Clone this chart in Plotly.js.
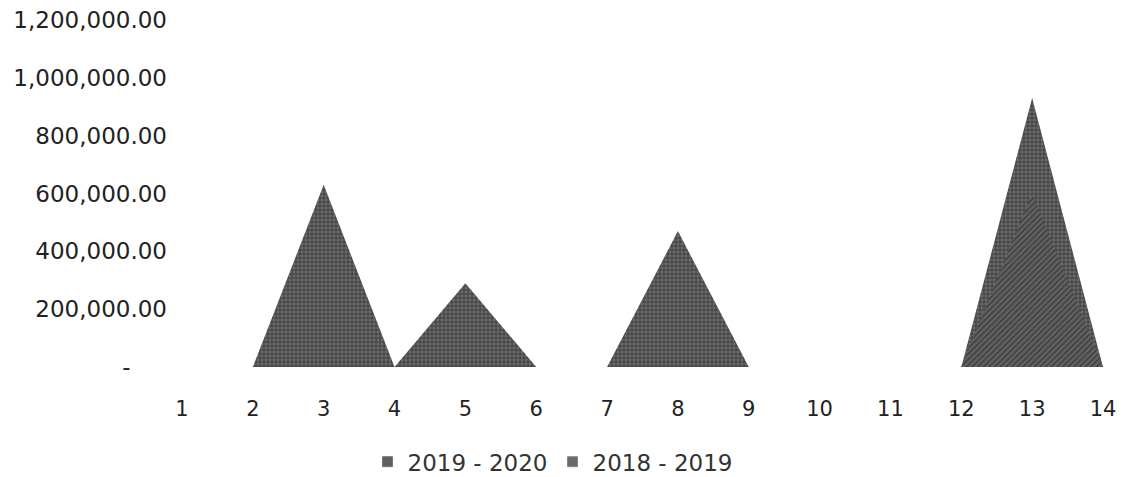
<!DOCTYPE html>
<html>
<head>
<meta charset="utf-8">
<script src="https://cdn.plot.ly/plotly-3.0.1.min.js"></script>
<style>html,body{margin:0;padding:0;background:#fff;}#chart{width:1123px;height:477px;}</style>
</head>
<body>
<div id="chart"></div>
<script>
const categories = [1,2,3,4,5,6,7,8,9,10,11,12,13,14];
const series2019_2020 = [0,0,630000,0,290000,0,0,470000,0,0,0,0,930000,0];
const series2018_2019 = [0,0,0,0,0,0,0,0,0,0,0,0,600000,0];
const yTickVals = [0,200000,400000,600000,800000,1000000,1200000];
const yTickText = ["-\u00a0\u00a0\u00a0\u00a0\u00a0","200,000.00","400,000.00","600,000.00","800,000.00","1,000,000.00","1,200,000.00"];
const seriesNames = ["2019 - 2020","2018 - 2019"];

const pat1 = {shape: '+', fgcolor: '#333333', bgcolor: '#6a6a6a', size: 4, solidity: 0.35};
const pat2 = {shape: '/', fgcolor: '#3a3a3a', bgcolor: '#626262', size: 4, solidity: 0.35};

const traces = [
  {
    x: categories, y: series2019_2020, name: seriesNames[0], showlegend: false,
    type: 'scatter', mode: 'lines', fill: 'tozeroy',
    line: {width: 0, color: '#3a3a3a'},
    fillcolor: '#5a5a5a', fillpattern: pat1
  },
  {
    x: categories, y: series2018_2019, name: seriesNames[1], showlegend: false,
    type: 'scatter', mode: 'lines', fill: 'tozeroy',
    line: {width: 0, color: '#3a3a3a'},
    fillcolor: '#555555', fillpattern: pat2
  },
  {
    x: [null], y: [null], name: seriesNames[0], type: 'scatter', mode: 'markers',
    marker: {symbol: 'square', size: 10, color: '#5f5f5f', line: {width: 1, color: '#777'}}
  },
  {
    x: [null], y: [null], name: seriesNames[1], type: 'scatter', mode: 'markers',
    marker: {symbol: 'square', size: 10, color: '#6a6a6a', line: {width: 1, color: '#888'}}
  }
];

const layout = {
  width: 1123, height: 477,
  margin: {l: 182, r: 20, t: 20, b: 110, autoexpand: false},
  paper_bgcolor: '#ffffff', plot_bgcolor: '#ffffff',
  font: {family: 'DejaVu Sans, Verdana, sans-serif', size: 20, color: '#222222'},
  showlegend: true,
  legend: {orientation: 'h', xref: 'container', yref: 'container', x: 0.492, xanchor: 'center',
           y: 0.032, yanchor: 'middle',
           font: {size: 23, color: '#333333'}, itemwidth: 30, traceorder: 'normal'},
  xaxis: {
    range: [1, 14], tickmode: 'array', tickvals: categories, ticktext: categories.map(String),
    showgrid: false, zeroline: false, showline: false, ticks: '', automargin: false,
    ticklabelstandoff: 27, tickfont: {size: 21, color: '#222222'}
  },
  yaxis: {
    range: [0, 1200000], tickmode: 'array', tickvals: yTickVals, ticktext: yTickText,
    showgrid: false, zeroline: false, showline: false, ticks: '', automargin: false,
    ticklabelstandoff: 14, tickfont: {size: 23, color: '#222222'}
  }
};

Plotly.newPlot('chart', traces, layout, {displayModeBar: false, staticPlot: true});
</script>
</body>
</html>
